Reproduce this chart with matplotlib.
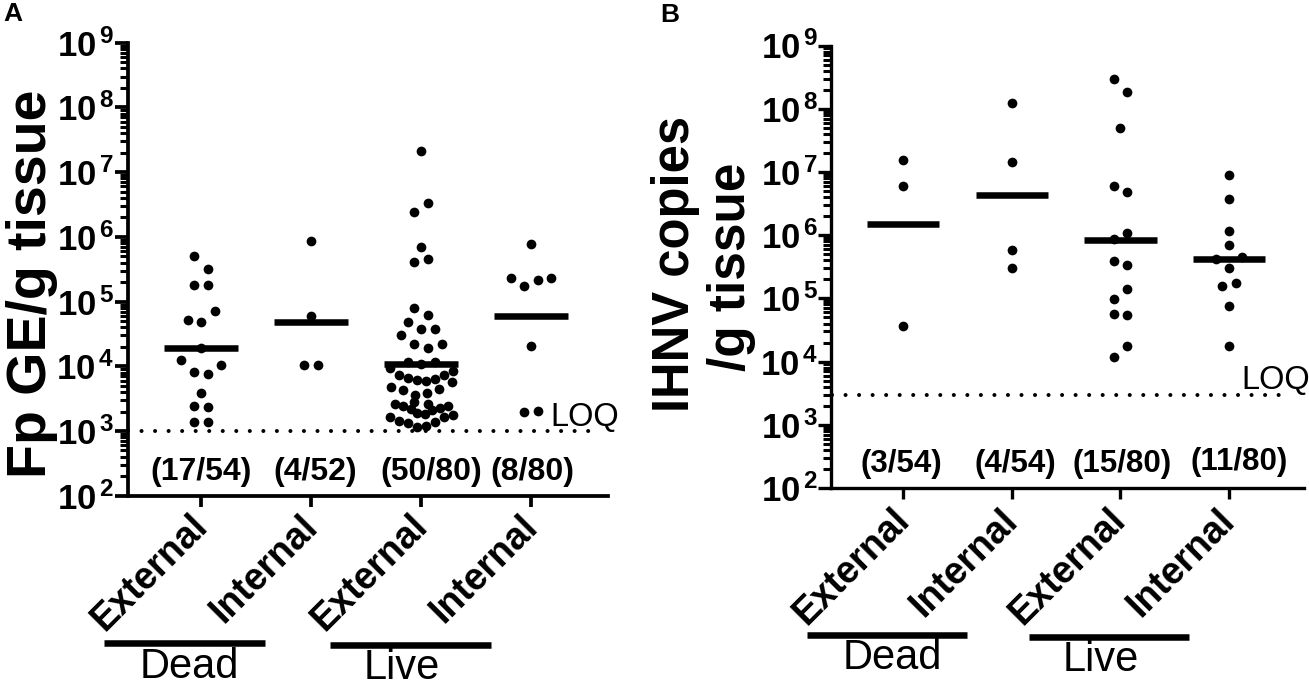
import numpy as np
import matplotlib
matplotlib.use("Agg")
import matplotlib.pyplot as plt
from matplotlib.ticker import LogLocator, NullFormatter, FixedLocator

plt.rcParams["font.family"] = ["Liberation Sans", "DejaVu Sans"]
plt.rcParams["mathtext.fontset"] = "custom"
plt.rcParams["mathtext.bf"] = "Liberation Sans:bold"
plt.rcParams["mathtext.rm"] = "Liberation Sans:bold"

W, H = 1309, 686

groups = ["External", "Internal", "External", "Internal"]

# Panel A, log10 of Fp GE/g tissue, with the swarm offset of each dot
a1_log = [5.70, 5.51, 5.25, 5.26, 4.85, 4.72, 4.69, 4.28, 4.09, 4.02, 3.91, 3.88, 3.58, 3.39, 3.37, 3.14, 3.14]
a1_off = [-.06, .06, -.06, .06, .124, -.12, 0, 0, -.185, .185, -.06, .06, 0, -.06, .06, -.06, .06]
a2_log = [5.93, 4.78, 4.02, 4.02]
a2_off = [0, 0, -.06, .06]
a3_log = [7.32, 6.52, 6.39, 5.84, 5.65, 5.61, 4.90, 4.80, 4.69, 4.58, 4.58, 4.49, 4.35, 4.35, 4.29,
          4.06, 4.03, 4.06, 3.97, 3.93,
          3.87, 3.82, 3.79, 3.78, 3.81, 3.87, 3.75,
          3.68, 3.64, 3.65, 3.56, 3.58,
          3.45, 3.41, 3.38, 3.42, 3.39, 3.35, 3.34, 3.32, 3.28, 3.26,
          3.21, 3.24, 3.21, 3.15, 3.12, 3.14, 3.06, 3.07]
a3_off = [0, .064, -.06, 0, .064, -.06, -.06, .064, -.121, 0, .127, -.182, -.06, .188, .064,
          -.121, 0, .127, -.285, .294,
          -.203, -.121, -.039, .042, .127, .209, .279,
          -.273, -.164, .167, -.052, .058,
          -.06, -.236, -.164, .067, .242, .173, -.09, .103, -.033, .036,
          -.285, .294, .209, -.203, -.121, .127, -.039, .042]
a4_log = [5.89, 5.36, 5.34, 5.37, 5.24, 4.32, 3.30, 3.31]
a4_off = [0, -.182, .064, .185, -.06, 0, -.06, .064]
a_median = [4.28, 4.69, 4.03, 4.77]
a_counts = ["(17/54)", "(4/52)", "(50/80)", "(8/80)"]

# Panel B, log10 of IHNV copies/g tissue
b1_log = [7.19, 6.78, 4.56]
b1_off = [0, 0, 0]
b2_log = [8.09, 7.16, 5.77, 5.48]
b2_off = [0, 0, 0, 0]
b3_log = [8.47, 8.26, 7.69, 6.78, 6.68, 6.04, 5.94, 5.59, 5.52, 5.15, 4.99, 4.75, 4.73, 4.25, 4.08]
b3_off = [-.061, .061, 0, -.061, .061, .061, -.061, -.061, .061, .061, -.061, -.061, .061, .061, -.061]
b4_log = [6.95, 6.57, 6.07, 5.85, 5.62, 5.66, 5.48, 5.25, 5.19, 4.88, 4.25]
b4_off = [0, 0, 0, 0, -.123, .123, 0, .061, -.061, 0, 0]
b_median = [6.18, 6.63, 5.93, 5.62]
b_counts = ["(3/54)", "(4/54)", "(15/80)", "(11/80)"]


def px_text(fig, x, y, s, **kw):
    # place text using image pixel coordinates
    return fig.text(x / W, 1 - y / H, s, **kw)


def px_line(fig, x0, x1, y, lw):
    fig.add_artist(plt.Line2D([x0 / W, x1 / W], [1 - y / H, 1 - y / H], color="black",
                              lw=lw, solid_capstyle="butt", transform=fig.transFigure))


def draw_panel(fig, left, right, top, bottom, cat0, step, logs, offs, medians, axis_lw):
    ax = fig.add_axes([left / W, 1 - bottom / H, (right - left) / W, (bottom - top) / H])
    ax.set_yscale("log")
    ax.set_ylim(1e2, 1e9)
    ax.set_xlim((left - cat0) / step, (right - cat0) / step)
    for i in range(4):
        xs = i + np.array(offs[i])
        ax.plot(xs, 10.0 ** np.array(logs[i]), "o", color="black", ms=7, mew=0, clip_on=False)
        ax.plot([i - 0.333, i + 0.333], [10 ** medians[i]] * 2, color="black", lw=4.7,
                solid_capstyle="butt")
    for s in ["top", "right"]:
        ax.spines[s].set_visible(False)
    for s in ["left", "bottom"]:
        ax.spines[s].set_linewidth(axis_lw)
    ax.xaxis.set_major_locator(FixedLocator(range(4)))
    ax.set_xticklabels([])
    ax.tick_params(axis="x", width=axis_lw, length=8)
    ax.yaxis.set_minor_locator(LogLocator(base=10, subs=np.arange(2, 10), numticks=10))
    ax.yaxis.set_minor_formatter(NullFormatter())
    ax.set_yticks([10.0 ** e for e in range(2, 10)])
    ax.set_yticklabels([r"$\mathbf{10^{\,%d}}$" % e for e in range(2, 10)], fontsize=25)
    ax.tick_params(axis="y", which="major", width=axis_lw, length=9.5, pad=0)
    ax.tick_params(axis="y", which="minor", width=2.2, length=5.5)
    return ax


fig = plt.figure(figsize=(W / 100, H / 100), dpi=100)

# Panel A
ax_a = draw_panel(fig, 128, 608, 42.7, 495.7, 201, 110,
                  [a1_log, a2_log, a3_log, a4_log], [a1_off, a2_off, a3_off, a4_off], a_median, 2.7)
ax_a.plot([-0.664, 3.56], [1e3, 1e3], color="black", lw=2.9, ls=(0, (0.01, 3.35)),
          dash_capstyle="round", clip_on=False)
px_text(fig, 3, 14, "A", fontsize=19, fontweight="bold", va="center")
px_text(fig, 32, 284, "Fp GE/g tissue", fontsize=40, fontweight="bold", rotation=90,
        ha="center", va="center")
px_text(fig, 550, 418, "LOQ", fontsize=23.5, va="center", color="black")
for x, s in zip([201, 315.5, 431, 532], a_counts):
    px_text(fig, x, 472, s, fontsize=23, fontweight="bold", ha="center", va="center")
for x, s in zip([189, 299, 409, 519], groups):
    px_text(fig, x, 508, s, fontsize=27, fontweight="bold", rotation=45, ha="right", va="top",
            rotation_mode="anchor")
px_line(fig, 104, 265, 643, 4.7)
px_line(fig, 330, 491, 645, 4.7)
px_text(fig, 189, 667, "Dead", fontsize=30, ha="center", va="center")
px_text(fig, 402, 668, "Live", fontsize=30, ha="center", va="center")

# Panel B
ax_b = draw_panel(fig, 831.5, 1304, 45.5, 488, 903, 108.7,
                  [b1_log, b2_log, b3_log, b4_log], [b1_off, b2_off, b3_off, b4_off], b_median, 2.4)
ax_b.plot([-0.65, 3.52], [3e3, 3e3], color="black", lw=2.9, ls=(0, (0.01, 3.35)),
          dash_capstyle="round", clip_on=False)
px_text(fig, 660, 15, "B", fontsize=19, fontweight="bold", va="center")
px_text(fig, 676, 264, "IHNV copies", fontsize=36.5, fontweight="bold", rotation=90,
        ha="center", va="center")
px_text(fig, 731, 266.5, "/g tissue", fontsize=37, fontweight="bold", rotation=90,
        ha="center", va="center")
px_text(fig, 1241, 380, "LOQ", fontsize=23.5, va="center", color="black")
for x, s, y in zip([901, 1015, 1122.5, 1239.5], b_counts, [464, 464, 464, 462]):
    px_text(fig, x, y, s, fontsize=22.5, fontweight="bold", ha="center", va="center")
for x, s in zip([891, 999, 1107, 1216], groups):
    px_text(fig, x, 502, s, fontsize=27, fontweight="bold", rotation=45, ha="right", va="top",
            rotation_mode="anchor")
px_line(fig, 807, 967, 635, 4.7)
px_line(fig, 1029, 1189, 637, 4.7)
px_text(fig, 892, 658, "Dead", fontsize=30, ha="center", va="center")
px_text(fig, 1101, 660, "Live", fontsize=30, ha="center", va="center")

fig.savefig("out.png", dpi=100)
